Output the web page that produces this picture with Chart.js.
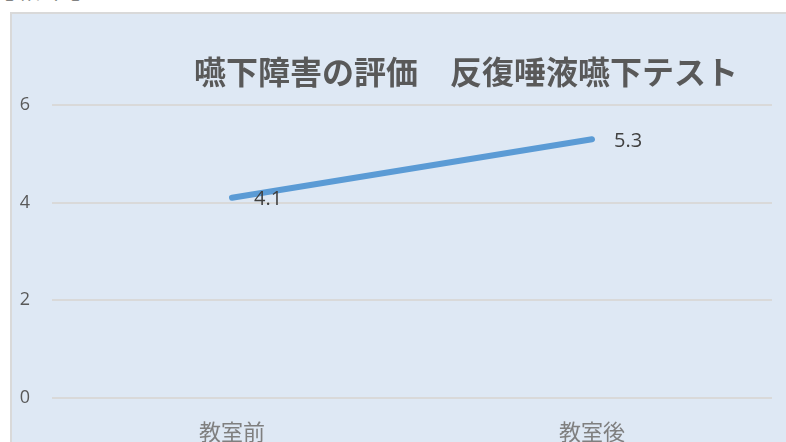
<!DOCTYPE html>
<html lang="ja">
<head>
<meta charset="utf-8">
<title>嚥下障害の評価</title>
<script src="https://cdn.jsdelivr.net/npm/chart.js@4.4.1/dist/chart.umd.min.js"></script>
<style>
  html, body { margin: 0; padding: 0; background: #ffffff; overflow: hidden; }
  #page { position: relative; width: 786px; height: 442px; overflow: hidden; }
  #heading {
    position: absolute; left: -10px; top: -30px;
    font: 24px "Noto Sans CJK JP", sans-serif; color: #222;
    letter-spacing: 3px;
    white-space: nowrap;
  }
  #panel {
    position: absolute; left: 10px; top: 12px; right: 0; bottom: 0;
    background: #dee8f4;
    border-left: 2px solid #d9d9d9;
    border-top: 2px solid #d9d9d9;
  }
  #chart { position: absolute; left: 0; top: 0; }
</style>
</head>
<body>
<div id="page">
  <div id="heading">【結果】</div>
  <div id="panel"></div>
  <canvas id="chart" width="786" height="442"></canvas>
</div>
<script>
// chart data
const categories = ['教室前', '教室後'];
const scores = [4.1, 5.3];
const yTicks = [0, 2, 4, 6];
const chartTitle = '嚥下障害の評価　反復唾液嚥下テスト';

// title drawn off-centre, the way the original sheet placed it
const titlePlugin = {
  id: 'sheetTitle',
  afterDraw(chart) {
    const ctx = chart.ctx;
    ctx.save();
    ctx.font = 'bold 32px "Noto Sans CJK JP", sans-serif';
    ctx.fillStyle = '#595959';
    ctx.textAlign = 'center';
    ctx.textBaseline = 'middle';
    ctx.fillText(chartTitle, 466, 72);
    ctx.restore();
  }
};

// value labels to the right of each point
const valueLabels = {
  id: 'valueLabels',
  afterDatasetsDraw(chart) {
    const ctx = chart.ctx;
    const meta = chart.getDatasetMeta(0);
    ctx.save();
    ctx.font = '20px "Open Sans", sans-serif';
    ctx.fillStyle = '#404040';
    ctx.textAlign = 'left';
    ctx.textBaseline = 'middle';
    meta.data.forEach((pt, i) => {
      ctx.fillText(scores[i].toFixed(1), pt.x + 22, pt.y + 2);
    });
    ctx.restore();
  }
};

const ctx = document.getElementById('chart');
new Chart(ctx.getContext('2d'), {
  type: 'line',
  data: {
    labels: categories,
    datasets: [{
      data: scores,
      borderColor: '#5b9bd5',
      borderWidth: 6,
      borderCapStyle: 'round',
      pointRadius: 0,
      pointHoverRadius: 0,
      fill: false,
      tension: 0
    }]
  },
  options: {
    responsive: false,
    animation: false,
    layout: { padding: { left: 0, right: 14, top: 105, bottom: 0 } },
    plugins: {
      legend: { display: false },
      title: { display: false },
      tooltip: { enabled: false }
    },
    scales: {
      x: {
        offset: true,
        grid: { display: false, drawTicks: false },
        border: { display: false },
        ticks: {
          color: '#7f7f7f',
          font: { family: '"Noto Sans CJK JP", sans-serif', size: 22 },
          padding: 20
        },
        afterFit(scale) { scale.height = 44; }
      },
      y: {
        min: 0,
        max: 6,
        grid: { color: '#d9d9d9', lineWidth: 2, drawTicks: false },
        border: { display: false },
        afterBuildTicks(scale) { scale.ticks = yTicks.map(v => ({ value: v })); },
        ticks: {
          color: '#595959',
          font: { family: '"Open Sans", sans-serif', size: 18 },
          padding: 22
        },
        afterFit(scale) { scale.width = 52; }
      }
    }
  },
  plugins: [titlePlugin, valueLabels]
});
</script>
</body>
</html>
